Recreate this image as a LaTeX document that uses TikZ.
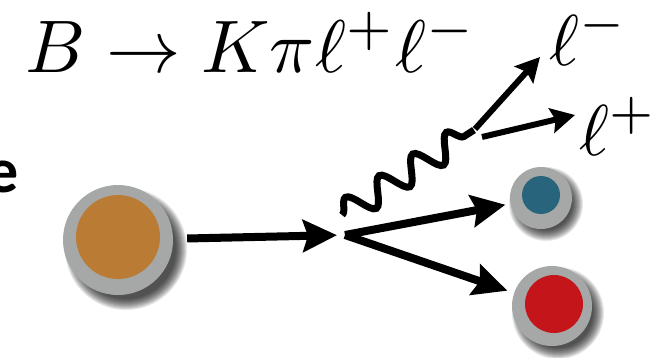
\documentclass[tikz,border=0pt]{standalone}
\usepackage{fontspec}
\newfontfamily\calibri{Carlito}
\usetikzlibrary{arrows.meta,decorations.pathmorphing}
\definecolor{ballgray}{RGB}{166,168,167}
\definecolor{borange}{RGB}{186,124,52}
\definecolor{bblue}{RGB}{40,101,124}
\definecolor{bred}{RGB}{196,22,26}
\newcommand\myshadow[3]{%
  \foreach \k in {0,...,11}{\fill[black,opacity=0.09] (#1,#2) circle[radius={(#3+6-\k)*1pt}];}}
\newcommand\hugemath[2][7.2]{\scalebox{#1}{$#2$}}
\begin{document}
\begin{tikzpicture}[x=1pt,y=-1pt,
  arr/.style={line width=8pt,-{Stealth[length=34pt,width=32pt,inset=5pt]}},
  larr/.style={line width=6pt,-{Stealth[length=24pt,width=25pt,inset=4pt]}},
  ring/.style={circle,fill=ballgray,inner sep=0pt},
  core/.style={circle,inner sep=0pt},
  lab/.style={inner sep=0pt},
  photon/.style={line width=7pt,decorate,decoration={snake,amplitude=13pt,segment length=40pt}}]
\useasboundingbox (0,0) rectangle (659,357);
% shadows
\myshadow{126}{249}{55}
\myshadow{546}{204}{31}
\myshadow{558}{313}{40}
% balls
\node[ring,minimum size=110pt] (B) at (118,240) {};
\node[core,fill=borange,minimum size=84pt] (Bc) at (118,237) {};
\node[ring,minimum size=62pt] (K) at (541,198) {};
\node[core,fill=bblue,minimum size=38pt] (Kc) at (541,195) {};
\node[ring,minimum size=80pt] (P) at (552,306) {};
\node[core,fill=bred,minimum size=58pt] (Pc) at (554,304) {};
% vertex and coordinates
\coordinate (v) at (345,235);
\coordinate (g1) at (342,215);
\coordinate (g2) at (474,130);
\coordinate (j1) at (475,129);
\coordinate (j2) at (482,137);
\coordinate (tm) at (540,57);
\coordinate (tp) at (575,115);
% arrows
\draw[arr,shorten <=14pt,shorten >=8pt] (B) -- (v);
\draw[arr,shorten >=5pt] (v) -- (K);
\draw[arr,shorten >=7pt] (v) -- (P);
\draw[photon] (g1) -- (g2);
\draw[larr] (j1) -- (tm);
\draw[larr] (j2) -- (tp);
% labels
\node[lab,anchor=base west] (title) at (25,72) {\hugemath[7.45]{B\to K\pi\ell^+\ell^-}};
\node[lab,anchor=base west] (lm) at (549,65) {\hugemath{\ell^-}};
\node[lab,anchor=base west] (lp) at (579,155) {\hugemath{\ell^+}};
\node[inner sep=0pt,anchor=base east,font=\calibri\bfseries\fontsize{64}{70}\selectfont] (e) at (19,192) {e};
\end{tikzpicture}
\end{document}
